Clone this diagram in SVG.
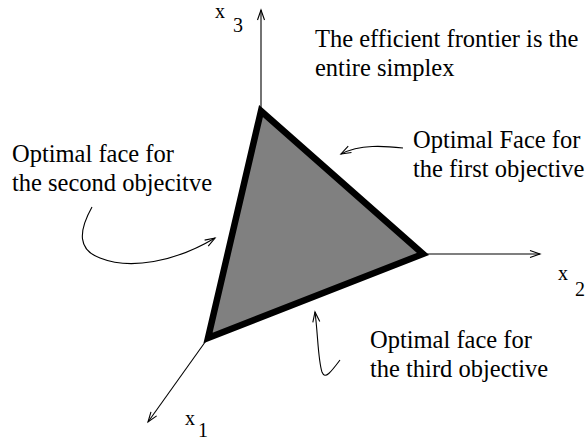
<svg xmlns="http://www.w3.org/2000/svg" width="587" height="440" viewBox="0 0 587 440">
<style>
.t{font-family:"Liberation Serif","Times New Roman",serif;font-size:24.5px;fill:#000}
.ax{font-family:"Liberation Serif","Times New Roman",serif;font-size:20px;fill:#000}
.ln{fill:none;stroke:#000;stroke-width:1.1}
</style>
<defs>
<marker id="ah" markerUnits="userSpaceOnUse" markerWidth="14" markerHeight="10" viewBox="-12 -5 14 10" refX="0" refY="0" orient="auto" overflow="visible">
<path d="M-10,-3.5 L0,0 L-10,3.5" fill="none" stroke="#000" stroke-width="1.1"/>
</marker>
</defs>
<rect width="587" height="440" fill="#fff"/>
<g id="connectors">
<line class="ln" x1="261" y1="111" x2="261" y2="10" marker-end="url(#ah)"/>
<line class="ln" x1="423" y1="254" x2="540" y2="254" marker-end="url(#ah)"/>
<line class="ln" x1="208" y1="338" x2="148" y2="422" marker-end="url(#ah)"/>
<path class="ln" d="M403,148 C385,146 360,144 341,154" marker-end="url(#ah)"/>
<path class="ln" d="M92,207 C78,232 78,250 100,258 C130,270 175,262 215,238" marker-end="url(#ah)"/>
<path class="ln" d="M340,360 C331,372 325,380 322,372 C318,360 318,335 315,312" marker-end="url(#ah)"/>
</g>
<g id="simplex">
<polygon points="261,111 423,254 208,338" fill="#808080" stroke="#000" stroke-width="6.5" stroke-linejoin="miter"/>
</g>
<g id="axis-x3"><text class="ax" x="215" y="18">x</text><text class="ax" x="233" y="32">3</text></g>
<g id="axis-x2"><text class="ax" x="558" y="280">x</text><text class="ax" x="575" y="296">2</text></g>
<g id="axis-x1"><text class="ax" x="185" y="425">x</text><text class="ax" x="198" y="437">1</text></g>
<g id="label-frontier"><text class="t" x="315" y="47">The efficient frontier is the</text><text class="t" x="315" y="76">entire simplex</text></g>
<g id="label-first"><text class="t" x="413" y="148">Optimal Face for</text><text class="t" x="413" y="177">the first objective</text></g>
<g id="label-second"><text class="t" x="12" y="162">Optimal face for</text><text class="t" x="12" y="191">the second objecitve</text></g>
<g id="label-third"><text class="t" x="370" y="348">Optimal face for</text><text class="t" x="370" y="377">the third objective</text></g>
</svg>
